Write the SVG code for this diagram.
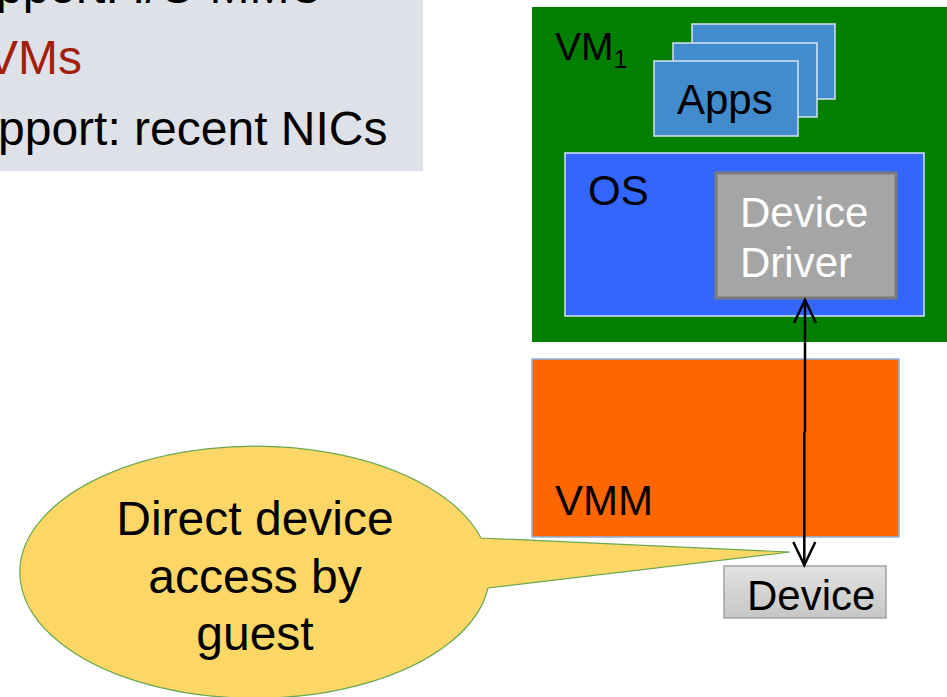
<svg xmlns="http://www.w3.org/2000/svg" width="947" height="697" viewBox="0 0 947 697">
<defs>
<style>
text{font-family:"Liberation Sans",Arial,sans-serif;}
.t48{font-size:48px;fill:#000;}
.t42{font-size:42px;fill:#000;}
.app{fill:#428bcc;stroke:#d6e4f2;stroke-width:1.5;}
</style>
<linearGradient id="devg" x1="0" y1="0" x2="0" y2="1">
<stop offset="0" stop-color="#e2e2e2"/>
<stop offset="1" stop-color="#c6c6c6"/>
</linearGradient>
<marker id="vh" markerUnits="userSpaceOnUse" markerWidth="30" markerHeight="30" viewBox="-26 -15 30 30" refX="0" refY="0" orient="auto-start-reverse">
<path d="M-23,-11 L0,0 L-23,11" fill="none" stroke="#000" stroke-width="2.5"/>
</marker>
</defs>
<rect width="947" height="697" fill="#fff"/>
<g id="bullets">
<rect x="0" y="0" width="423" height="171" fill="#dee1e8"/>
<text class="t48" x="-4" y="3">pport: I/O MMU</text>
<text class="t48" x="-14" y="74" fill="#a21e08" style="fill:#a21e08">VMs</text>
<text class="t48" x="-2" y="145">pport: recent NICs</text>
</g>
<g id="vm1">
<rect x="532" y="7" width="420" height="335" fill="#007f00"/>
<text x="555" y="60" style="font-size:39px" fill="#000">VM<tspan font-size="25" dy="8">1</tspan></text>
</g>
<g id="apps">
<rect class="app" x="692" y="24" width="143" height="75"/>
<rect class="app" x="673" y="43" width="144" height="74"/>
<rect class="app" x="654" y="61" width="144" height="75"/>
<text class="t42" x="677" y="114">Apps</text>
</g>
<g id="os">
<rect x="565" y="153" width="359" height="163" fill="#3366ff" stroke="#d8e2ff" stroke-width="1.5"/>
<text class="t42" x="588" y="205">OS</text>
</g>
<g id="driver">
<rect x="716" y="173" width="180" height="125" fill="#a5a5a5" stroke="#7a7a7a" stroke-width="3"/>
<text class="t42" x="740" y="227" style="fill:#fff">Device</text>
<text class="t42" x="740" y="277" style="fill:#fff">Driver</text>
</g>
<g id="vmm">
<rect x="532" y="359" width="367" height="178" fill="#ff6600" stroke="#8db3e2" stroke-width="1.5"/>
<text class="t42" x="555" y="515">VMM</text>
</g>
<g id="device">
<rect x="724" y="566" width="162" height="52" fill="url(#devg)" stroke="#a3a3a3" stroke-width="1.5"/>
<text class="t42" x="747" y="610">Device</text>
</g>
<g id="callout">
<path d="M481,538 A235,126 0 1 0 488,588 L790,552 Z" fill="#fcd766" stroke="#6aa84f" stroke-width="1.2"/>
<text class="t48" x="255" y="535" text-anchor="middle">Direct device</text>
<text class="t48" x="255" y="593" text-anchor="middle">access by</text>
<text class="t48" x="255" y="650" text-anchor="middle">guest</text>
</g>
<g id="connectors">
<path d="M805,300 V432 M804.3,432 V565" fill="none" stroke="#000" stroke-width="2.5"/>
<line x1="805" y1="300" x2="805" y2="310" stroke="none" marker-start="url(#vh)"/>
<line x1="804.3" y1="555" x2="804.3" y2="565" stroke="none" marker-end="url(#vh)"/>
</g>
</svg>
